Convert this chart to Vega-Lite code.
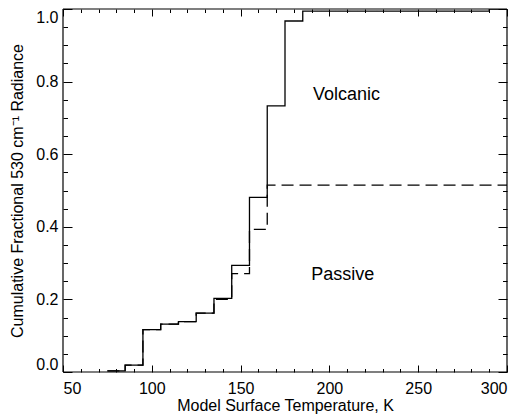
{
  "$schema": "https://vega.github.io/schema/vega-lite/v6.json",
  "width": 444,
  "height": 363,
  "autosize": "none",
  "padding": {"left": 63, "top": 9, "right": 15, "bottom": 44},
  "background": "white",
  "config": {
    "font": "Liberation Sans",
    "view": {"stroke": null},
    "axis": {
      "domain": false,
      "tickColor": "black",
      "tickWidth": 1,
      "labelColor": "black",
      "titleColor": "black",
      "labelFont": "Liberation Sans",
      "titleFont": "Liberation Sans",
      "labelFontSize": 16,
      "titleFontSize": 16,
      "titleFontWeight": "normal",
      "grid": false
    }
  },
  "datasets": {
    "steps": [
      {"series": "Total", "x": 75, "y": 0.003},
      {"series": "Total", "x": 85, "y": 0.019},
      {"series": "Total", "x": 95, "y": 0.117},
      {"series": "Total", "x": 105, "y": 0.132},
      {"series": "Total", "x": 115, "y": 0.139},
      {"series": "Total", "x": 125, "y": 0.162},
      {"series": "Total", "x": 135, "y": 0.203},
      {"series": "Total", "x": 145, "y": 0.294},
      {"series": "Total", "x": 155, "y": 0.481},
      {"series": "Total", "x": 165, "y": 0.733},
      {"series": "Total", "x": 175, "y": 0.967},
      {"series": "Total", "x": 185, "y": 0.994},
      {"series": "Total", "x": 290, "y": 1.0},
      {"series": "Total", "x": 300, "y": 1.0},
      {"series": "Passive", "x": 75, "y": 0.003},
      {"series": "Passive", "x": 85, "y": 0.019},
      {"series": "Passive", "x": 95, "y": 0.117},
      {"series": "Passive", "x": 105, "y": 0.132},
      {"series": "Passive", "x": 115, "y": 0.139},
      {"series": "Passive", "x": 125, "y": 0.162},
      {"series": "Passive", "x": 135, "y": 0.2},
      {"series": "Passive", "x": 145, "y": 0.271},
      {"series": "Passive", "x": 155, "y": 0.393},
      {"series": "Passive", "x": 165, "y": 0.515},
      {"series": "Passive", "x": 300, "y": 0.515}
    ],
    "labels": [
      {"label": "Volcanic", "x": 209.6, "y": 0.75},
      {"label": "Passive", "x": 207.5, "y": 0.254}
    ],
    "frame": [
      {"x": 50, "x2": 300, "y": 0, "y2": 0},
      {"x": 50, "x2": 300, "y": 1, "y2": 1},
      {"x": 50, "x2": 50, "y": 0, "y2": 1},
      {"x": 300, "x2": 300, "y": 0, "y2": 1}
    ]
  },
  "layer": [
    {
      "data": {"name": "steps"},
      "mark": {"type": "line", "interpolate": "step-after", "color": "black", "strokeWidth": 1.3, "clip": true},
      "encoding": {
        "x": {
          "field": "x", "type": "quantitative",
          "scale": {"domain": [50, 300], "nice": false, "zero": false},
          "axis": {"orient": "bottom", "values": [50, 100, 150, 200, 250, 300], "tickSize": -7, "labelPadding": 15, "title": "Model Surface Temperature, K", "titlePadding": 1}
        },
        "y": {
          "field": "y", "type": "quantitative",
          "scale": {"domain": [0, 1], "nice": false},
          "axis": {"orient": "left", "values": [0, 0.2, 0.4, 0.6, 0.8, 1.0], "format": ".1f", "tickSize": -9, "labelPadding": 14, "labelFlush": true, "labelFlushOffset": 0, "title": "Cumulative Fractional 530 cm⁻¹ Radiance", "titlePadding": 10}
        },
        "strokeDash": {
          "field": "series", "type": "nominal",
          "scale": {"domain": ["Total", "Passive"], "range": [[1, 0], [12, 6]]},
          "legend": null
        },
        "detail": {"field": "series"}
      }
    },
    {
      "data": {"name": "frame"},
      "mark": {"type": "rule", "color": "black", "strokeWidth": 1.2},
      "encoding": {
        "x": {"field": "x", "type": "quantitative", "axis": {"orient": "bottom", "values": [60, 70, 80, 90, 110, 120, 130, 140, 160, 170, 180, 190, 210, 220, 230, 240, 260, 270, 280, 290], "tickSize": -3.5, "labels": false, "title": null}},
        "x2": {"field": "x2"},
        "y": {"field": "y", "type": "quantitative", "axis": {"orient": "left", "values": [0.05, 0.1, 0.15, 0.25, 0.3, 0.35, 0.45, 0.5, 0.55, 0.65, 0.7, 0.75, 0.85, 0.9, 0.95], "tickSize": -4.5, "labels": false, "title": null}},
        "y2": {"field": "y2"}
      }
    },
    {
      "data": {"name": "labels"},
      "mark": {"type": "text", "font": "Liberation Sans", "fontSize": 18, "color": "black", "align": "center", "baseline": "alphabetic"},
      "encoding": {
        "x": {"field": "x", "type": "quantitative", "axis": {"orient": "top", "values": [50, 100, 150, 200, 250, 300], "tickSize": -7, "labels": false, "title": null}},
        "y": {"field": "y", "type": "quantitative", "axis": {"orient": "right", "values": [0, 0.2, 0.4, 0.6, 0.8, 1.0], "tickSize": -9, "labels": false, "title": null}},
        "text": {"field": "label"}
      }
    },
    {
      "data": {"name": "labels"},
      "mark": {"type": "point", "opacity": 0},
      "encoding": {
        "x": {"field": "x", "type": "quantitative", "axis": {"orient": "top", "values": [60, 70, 80, 90, 110, 120, 130, 140, 160, 170, 180, 190, 210, 220, 230, 240, 260, 270, 280, 290], "tickSize": -3.5, "labels": false, "title": null}},
        "y": {"field": "y", "type": "quantitative", "axis": {"orient": "right", "values": [0.05, 0.1, 0.15, 0.25, 0.3, 0.35, 0.45, 0.5, 0.55, 0.65, 0.7, 0.75, 0.85, 0.9, 0.95], "tickSize": -4.5, "labels": false, "title": null}}
      }
    }
  ],
  "resolve": {"axis": {"x": "independent", "y": "independent"}}
}
